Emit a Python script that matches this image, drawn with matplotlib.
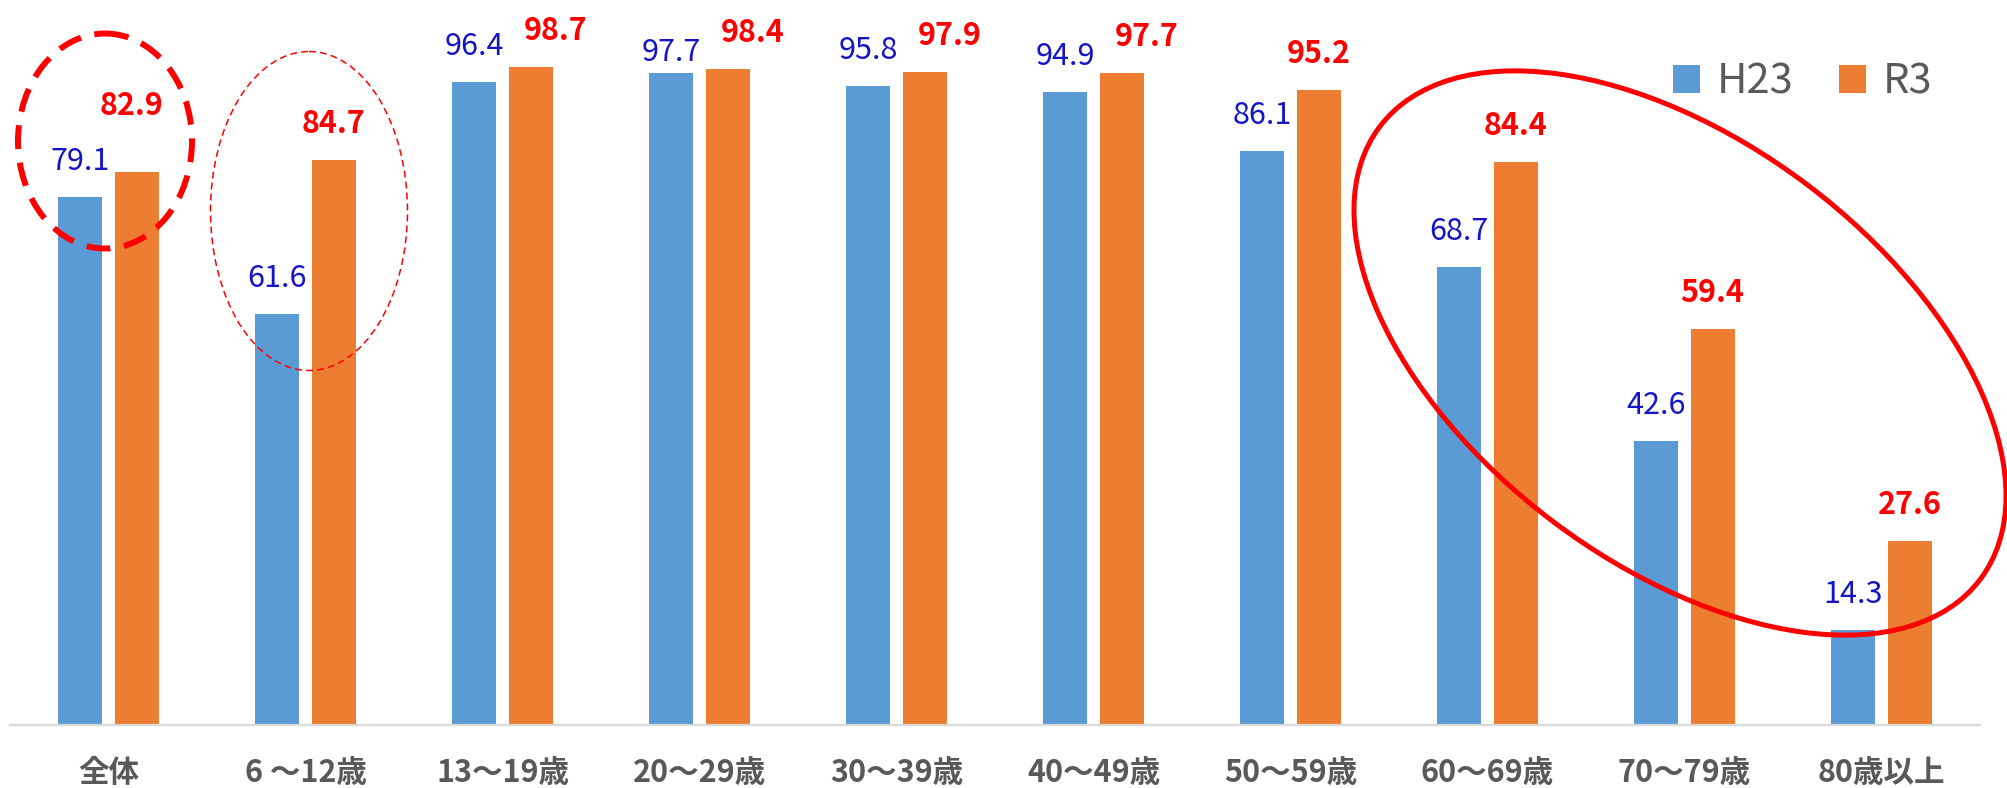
import matplotlib
matplotlib.use("Agg")
import matplotlib.pyplot as plt
from matplotlib.patches import Ellipse
import numpy as np

plt.rcParams['font.family'] = ['Noto Sans CJK JP', 'DejaVu Sans']

# data
categories = ['全体', '6 ～12歳', '13～19歳', '20～29歳', '30～39歳',
              '40～49歳', '50～59歳', '60～69歳', '70～79歳', '80歳以上']
h23 = [79.1, 61.6, 96.4, 97.7, 95.8, 94.9, 86.1, 68.7, 42.6, 14.3]
r3 = [82.9, 84.7, 98.7, 98.4, 97.9, 97.7, 95.2, 84.4, 59.4, 27.6]
series_names = ['H23', 'R3']

BLUE = '#5B9BD5'
ORANGE = '#ED7D31'
GRAY = '#595959'

W, H = 2007, 788
fig = plt.figure(figsize=(W / 100, H / 100), dpi=100)
ax = fig.add_axes([10 / W, 63 / H, 1970 / W, 1 - 63 / H])

x = np.arange(len(categories))
bw = 0.223
off = 0.143
ax.bar(x - off, h23, bw, color=BLUE, label=series_names[0])
ax.bar(x + off, r3, bw, color=ORANGE, label=series_names[1])
ax.set_xlim(-0.5, len(categories) - 0.5)
ax.set_ylim(0, 108.7)

for s in ['top', 'right', 'left']:
    ax.spines[s].set_visible(False)
ax.spines['bottom'].set_color('#D9D9D9')
ax.spines['bottom'].set_linewidth(1.6)
ax.set_yticks([])
ax.set_xticks(x, categories)
ax.tick_params(axis='x', length=0, pad=23)
for lab in ax.get_xticklabels():
    lab.set_fontsize(22)
    lab.set_fontweight('bold')
    lab.set_color(GRAY)

# value labels: default sits 19.5pt above the bar top, a few were moved by hand
h_nudge = {3: (0, 9)}
r_nudge = {0: (-4, 41), 2: (18, 19.5), 3: (18, 19.5), 4: (18, 19.5), 5: (18, 19.5)}
for i, v in enumerate(h23):
    ax.annotate(f'{v:.1f}', (x[i] - off, v), xytext=h_nudge.get(i, (0, 19.5)),
                textcoords='offset points', ha='center', va='baseline',
                color='#1515C8', fontsize=22)
for i, v in enumerate(r3):
    ax.annotate(f'{v:.1f}', (x[i] + off, v), xytext=r_nudge.get(i, (0, 19.5)),
                textcoords='offset points', ha='center', va='baseline',
                color='#FF0000', fontsize=22, fontweight='bold')

leg = fig.legend(loc='upper left', bbox_to_anchor=(1673 / W, 1 - 62 / H),
                 ncol=2, frameon=False, fontsize=30, handlelength=0.65,
                 handleheight=0.65, handletextpad=0.4, columnspacing=1.1,
                 borderpad=0, borderaxespad=0)
for t in leg.get_texts():
    t.set_color(GRAY)

# hand drawn highlight rings, in figure pixels
ov = fig.add_axes([0, 0, 1, 1])
ov.set_xlim(0, W)
ov.set_ylim(H, 0)
ov.axis('off')
ov.patch.set_alpha(0)
ov.add_patch(Ellipse((105, 141), 174, 215, fill=False, edgecolor='#FF0000',
                     linewidth=4.3, linestyle=(0, (4.0, 2.3))))
ov.add_patch(Ellipse((309, 211), 197, 319, fill=False, edgecolor='#FF0000',
                     linewidth=1.1, linestyle=(0, (4.5, 2.7))))
ov.add_patch(Ellipse((1680, 353), 752, 422, angle=37, fill=False,
                     edgecolor='#FF0000', linewidth=3.6))

fig.savefig('out.png', dpi=100)
